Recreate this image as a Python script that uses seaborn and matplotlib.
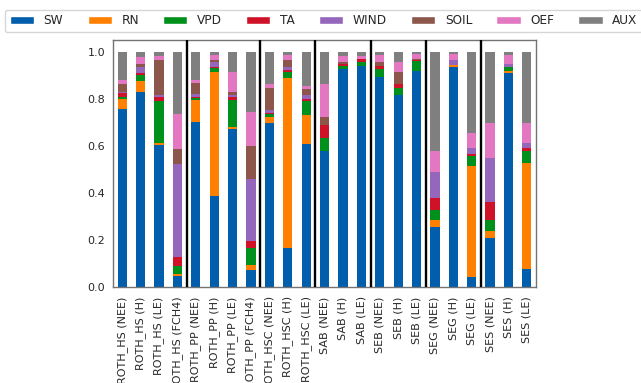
import numpy as np
import pandas as pd
import matplotlib
matplotlib.use("Agg")
import matplotlib.pyplot as plt
from matplotlib.patches import Patch
import seaborn as sns

sites = ["ROTH_HS (NEE)", "ROTH_HS (H)", "ROTH_HS (LE)", "ROTH_HS (FCH4)",
         "ROTH_PP (NEE)", "ROTH_PP (H)", "ROTH_PP (LE)", "ROTH_PP (FCH4)",
         "ROTH_HSC (NEE)", "ROTH_HSC (H)", "ROTH_HSC (LE)",
         "SAB (NEE)", "SAB (H)", "SAB (LE)",
         "SEB (NEE)", "SEB (H)", "SEB (LE)",
         "SEG (NEE)", "SEG (H)", "SEG (LE)",
         "SES (NEE)", "SES (H)", "SES (LE)"]
group_sizes = [4, 4, 3, 3, 3, 3, 3]

components = ["SW", "RN", "VPD", "TA", "WIND", "SOIL", "OEF", "AUX"]

SW   = [0.755, 0.830, 0.603, 0.047, 0.703, 0.389, 0.672, 0.075, 0.696, 0.165, 0.607,
        0.580, 0.926, 0.941, 0.891, 0.815, 0.920, 0.257, 0.937, 0.045, 0.211, 0.911, 0.079]
RN   = [0.045, 0.047, 0.008, 0.011, 0.094, 0.523, 0.008, 0.020, 0.029, 0.725, 0.124,
        0.000, 0.000, 0.000, 0.000, 0.000, 0.000, 0.028, 0.006, 0.470, 0.028, 0.007, 0.447]
VPD  = [0.007, 0.025, 0.180, 0.033, 0.006, 0.017, 0.116, 0.070, 0.010, 0.025, 0.061,
        0.054, 0.013, 0.017, 0.035, 0.030, 0.040, 0.042, 0.000, 0.044, 0.046, 0.016, 0.052]
TA   = [0.017, 0.006, 0.018, 0.038, 0.007, 0.007, 0.014, 0.033, 0.005, 0.007, 0.006,
        0.055, 0.011, 0.011, 0.014, 0.018, 0.007, 0.053, 0.000, 0.008, 0.078, 0.000, 0.012]
WIND = [0.007, 0.028, 0.007, 0.396, 0.011, 0.019, 0.008, 0.260, 0.012, 0.012, 0.018,
        0.000, 0.000, 0.000, 0.000, 0.000, 0.000, 0.108, 0.021, 0.023, 0.186, 0.014, 0.024]
SOIL = [0.031, 0.012, 0.151, 0.064, 0.048, 0.010, 0.013, 0.142, 0.095, 0.031, 0.028,
        0.035, 0.005, 0.000, 0.017, 0.049, 0.003, 0.000, 0.000, 0.000, 0.000, 0.000, 0.000]
OEF  = [0.018, 0.028, 0.016, 0.148, 0.011, 0.021, 0.085, 0.145, 0.015, 0.021, 0.012,
        0.138, 0.027, 0.015, 0.031, 0.046, 0.020, 0.091, 0.026, 0.065, 0.150, 0.038, 0.083]
AUX  = [0.120, 0.024, 0.017, 0.263, 0.120, 0.014, 0.084, 0.255, 0.138, 0.014, 0.144,
        0.138, 0.018, 0.016, 0.012, 0.042, 0.010, 0.421, 0.010, 0.345, 0.301, 0.014, 0.303]

values = {"SW": SW, "RN": RN, "VPD": VPD, "TA": TA, "WIND": WIND,
          "SOIL": SOIL, "OEF": OEF, "AUX": AUX}
colors = {"SW": "#005eac", "RN": "#ff8000", "VPD": "#00901c", "TA": "#d01228",
          "WIND": "#9467bd", "SOIL": "#8c564b", "OEF": "#e377c2", "AUX": "#7f7f7f"}

sns.set_style("white")
plt.rcParams["font.family"] = ["DejaVu Sans"]

fig = plt.figure(figsize=(6.41, 3.83), dpi=100)
ax = fig.add_axes([0.1763, 0.2499, 0.660, 0.6457])

df = pd.DataFrame(values)
df["site"] = sites
bottom = np.zeros(len(sites))
for comp in components:
    sns.barplot(data=df, x="site", y=comp, order=sites, color=colors[comp],
                width=0.5, bottom=bottom, saturation=1, linewidth=0, ax=ax)
    bottom = bottom + df[comp].to_numpy()

for b in np.cumsum(group_sizes)[:-1]:
    ax.axvline(b - 0.5, color="black", lw=1.7, zorder=5)

ax.set_ylim(0, 1.05)
ax.set_xlim(-0.5, len(sites) - 0.5)
ax.set_yticks(np.arange(0, 1.01, 0.2))
ax.set_yticklabels([f"{v:.1f}" for v in np.arange(0, 1.01, 0.2)])
ax.set_xlabel("")
ax.set_ylabel("")
ax.tick_params(axis="x", labelrotation=90, labelsize=8, pad=3)
ax.tick_params(axis="y", labelsize=8, pad=2)
for s in ax.spines.values():
    s.set_color("0.45")
    s.set_linewidth(1.0)

handles = [Patch(facecolor=colors[c], label=c) for c in components]
fig.legend(handles=handles, loc="upper center", bbox_to_anchor=(0.505, 0.975),
           ncol=8, fontsize=8.7, frameon=True, borderaxespad=0)

fig.savefig("out.png", dpi=100)
